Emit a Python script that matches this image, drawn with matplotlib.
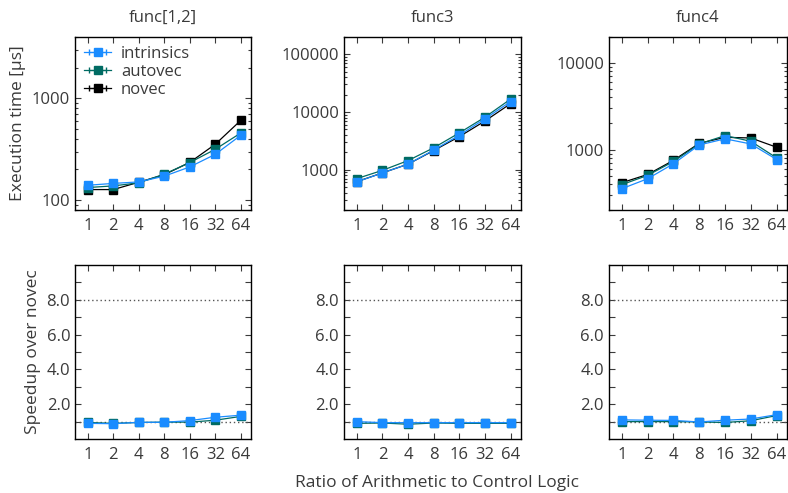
import numpy as np
import matplotlib
matplotlib.use('Agg')
import matplotlib.pyplot as plt
from matplotlib.ticker import FixedLocator, NullFormatter, LogLocator

plt.rcParams['font.family'] = ['Open Sans', 'DejaVu Sans']
plt.rcParams['text.color'] = '#3a3a3a'
plt.rcParams['axes.labelcolor'] = '#3a3a3a'
plt.rcParams['xtick.color'] = '#3a3a3a'
plt.rcParams['ytick.color'] = '#3a3a3a'

ratios = ['1', '2', '4', '8', '16', '32', '64']
titles = ['func[1,2]', 'func3', 'func4']

# execution time [us]
time_intrinsics = [
    [140, 146, 151, 172, 212, 282, 434],
    [616, 880, 1250, 2190, 3970, 7640, 15200],
    [353, 460, 685, 1130, 1330, 1160, 767],
]
time_autovec = [
    [133, 138, 148, 180, 234, 316, 457],
    [700, 975, 1440, 2400, 4350, 8150, 16800],
    [393, 503, 728, 1160, 1450, 1245, 800],
]
time_novec = [
    [127, 127, 150, 178, 235, 354, 608],
    [620, 880, 1250, 2150, 3750, 7000, 14000],
    [414, 515, 750, 1180, 1385, 1360, 1063],
]
# speedup over novec
speed_intrinsics = [
    [0.90, 0.88, 0.96, 0.96, 1.06, 1.25, 1.37],
    [1.00, 0.94, 0.94, 0.94, 0.94, 0.94, 0.94],
    [1.10, 1.08, 1.07, 0.98, 1.08, 1.15, 1.40],
]
speed_autovec = [
    [0.95, 0.90, 0.95, 0.97, 0.97, 1.08, 1.30],
    [0.90, 0.92, 0.85, 0.92, 0.90, 0.90, 0.90],
    [1.00, 1.00, 1.00, 0.98, 0.95, 1.05, 1.35],
]

ylims = [(80, 4000), (200, 200000), (200, 20000)]
yticks = [[100, 1000], [1000, 10000, 100000], [1000, 10000]]

c_intr = '#1a8cff'
c_auto = '#006b63'
c_novec = '#000000'

fig = plt.figure(figsize=(7.88, 4.93), dpi=100)
lefts = [0.0952, 0.4365, 0.7728]
widths = [0.2234, 0.2246, 0.2259]
x = np.arange(len(ratios))


def style(ax):
    ax.tick_params(which='both', direction='in', top=True, right=True, labelsize=12)
    ax.tick_params(which='major', length=4, width=0.8)
    ax.tick_params(which='minor', length=2.5, width=0.8)
    ax.tick_params(axis='x', which='minor', top=False, bottom=False)
    ax.tick_params(axis='x', pad=6)
    for s in ax.spines.values():
        s.set_linewidth(1.0)
    ax.set_xticks(x)
    ax.set_xticklabels(ratios)
    ax.set_xlim(-0.5, 6.4)


for i in range(3):
    ax = fig.add_axes([lefts[i], 0.574, widths[i], 0.351])
    ax.errorbar(x, time_novec[i], xerr=np.zeros(7), color=c_novec, marker='s', ms=6,
                lw=0.9, capsize=2, label='novec')
    ax.errorbar(x, time_autovec[i], xerr=np.zeros(7), color=c_auto, marker='s', ms=6,
                lw=0.9, capsize=2, label='autovec')
    ax.errorbar(x, time_intrinsics[i], xerr=np.zeros(7), color=c_intr, marker='s', ms=6,
                lw=0.9, capsize=2, label='intrinsics')
    ax.set_yscale('log')
    ax.set_ylim(*ylims[i])
    ax.yaxis.set_major_locator(FixedLocator(yticks[i]))
    ax.yaxis.set_major_formatter(plt.FuncFormatter(lambda v, p: '%d' % v))
    ax.yaxis.set_minor_locator(LogLocator(base=10, subs=np.arange(2, 10)))
    ax.yaxis.set_minor_formatter(NullFormatter())
    style(ax)
    ax.set_title(titles[i], fontsize=12, pad=11)
    if i == 0:
        ax.set_ylabel('Execution time [μs]', fontsize=12.5)
        h, l = ax.get_legend_handles_labels()
        ax.legend(h[::-1], l[::-1], loc='upper left', frameon=False, fontsize=12,
                  handlelength=1.6, handletextpad=0.6, labelspacing=0.12,
                  borderaxespad=0.15)

    ax2 = fig.add_axes([lefts[i], 0.1095, widths[i], 0.353])
    ax2.axhline(8, color='#555555', ls=(0, (1, 2)), lw=1.0)
    ax2.axhline(1, color='#555555', ls=(0, (1, 2)), lw=1.0)
    ax2.plot(x, speed_autovec[i], color=c_auto, marker='s', ms=6, lw=0.9)
    ax2.plot(x, speed_intrinsics[i], color=c_intr, marker='s', ms=6, lw=0.9)
    ax2.set_ylim(0, 10)
    ax2.set_yticks([2, 4, 6, 8])
    ax2.set_yticklabels(['2.0', '4.0', '6.0', '8.0'])
    ax2.yaxis.set_minor_locator(FixedLocator([1, 3, 5, 7, 9]))
    style(ax2)
    ax2.tick_params(axis='y', which='minor', length=4)
    if i == 0:
        ax2.set_ylabel('Speedup over novec', fontsize=12.5)

fig.text(0.555, 0.012, 'Ratio of Arithmetic to Control Logic', ha='center', fontsize=12.5)

fig.savefig('out.png', dpi=100)
